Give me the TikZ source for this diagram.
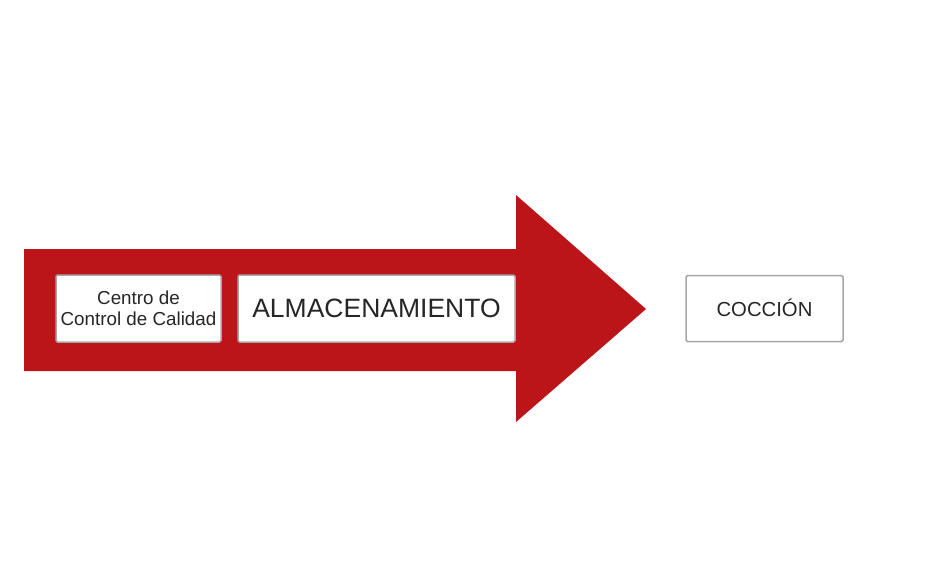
\documentclass[tikz,border=0pt]{standalone}
\usepackage{fontspec}
\setmainfont{Liberation Sans}
\definecolor{arrowred}{HTML}{BB151A}
\definecolor{boxgray}{HTML}{A6A6A6}
\definecolor{txtgray}{HTML}{262626}
\tikzset{
  stagebox/.style={draw=boxgray, line width=1.5pt, fill=white, rounded corners=1.5pt,
    inner sep=0pt, outer sep=0pt, align=center, text=txtgray, anchor=center},
}
\begin{document}
\begin{tikzpicture}[x=1pt,y=-1pt]
\useasboundingbox (0,0) rectangle (950,584);
\fill[arrowred] (24,249) -- (516,249) -- (516,195) -- (646,309) -- (516,422) -- (516,371) -- (24,371) -- cycle;
\node[stagebox, minimum width=165pt, minimum height=67pt,
  font=\fontsize{18.8}{21.5}\selectfont] (ccc) at (138.5,308.5) {Centro de\\Control de Calidad};
\node[stagebox, minimum width=277pt, minimum height=67pt,
  font=\fontsize{26.5}{30}\selectfont] (alm) at (376.5,308.5) {ALMACENAMIENTO};
\node[stagebox, minimum width=157pt, minimum height=66pt,
  font=\fontsize{20.3}{24}\selectfont, text depth=1.5pt] (coc) at (764.5,308.5) {COCCIÓN};
\end{tikzpicture}
\end{document}
